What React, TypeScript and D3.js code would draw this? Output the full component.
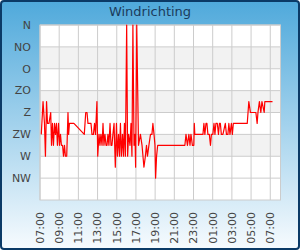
import React, { useEffect, useRef } from 'react';
import * as d3 from 'd3';

// wind direction samples (time of day, degrees), running from 07:00 to 07:14 the next morning
const times = [
    "07:08", "07:19", "07:28", "07:34", "07:41", "07:47", "07:56", "08:07", "08:12", "08:18",
    "08:24", "08:31", "08:37", "08:43", "08:49", "08:56", "09:02", "09:08", "09:14", "09:21",
    "09:27", "09:33", "09:39", "09:47", "09:55", "09:59", "10:04", "10:32", "11:37", "11:46",
    "11:54", "12:00", "12:19", "12:25", "12:34", "12:41", "12:47", "12:56", "13:01", "13:09",
    "13:15", "13:21", "13:28", "13:34", "13:40", "13:46", "13:53", "13:59", "14:05", "14:11",
    "14:18", "14:24", "14:30", "14:36", "14:43", "14:51", "14:58", "15:04", "15:11", "15:17",
    "15:23", "15:29", "15:36", "15:42", "15:48", "15:54", "16:02", "16:08", "16:14", "16:23",
    "16:29", "16:35", "16:41", "16:48", "16:54", "16:58", "17:05", "17:16", "17:28", "17:38",
    "17:50", "17:59", "18:06", "18:12", "18:21", "18:31", "18:40", "18:46", "18:53", "18:59",
    "19:03", "19:09", "19:16", "22:06", "22:13", "22:22", "22:31", "22:38", "22:44", "22:53",
    "23:02", "23:05", "23:08", "23:59", "00:05", "00:11", "00:18", "00:24", "00:30", "00:39",
    "00:46", "00:52", "01:01", "01:08", "01:14", "01:20", "01:29", "01:36", "01:42", "01:48",
    "01:54", "02:04", "02:19", "02:26", "02:35", "02:41", "02:48", "02:57", "03:03", "03:09",
    "04:36", "04:46", "04:56", "05:30", "05:38", "05:43", "05:52", "06:01", "06:08", "06:22",
    "06:26", "07:14",
];
const degrees = [
    225, 157.5, 202.5, 270, 157.5, 202.5, 202.5, 180, 247.5, 202.5,
    247.5, 202.5, 225, 202.5, 247.5, 202.5, 247.5, 225, 247.5, 247.5,
    270, 247.5, 270, 270, 180, 225, 202.5, 202.5, 225, 180,
    180, 202.5, 202.5, 225, 225, 202.5, 225, 157.5, 270, 225,
    247.5, 225, 247.5, 202.5, 247.5, 225, 247.5, 247.5, 225, 247.5,
    202.5, 247.5, 247.5, 225, 202.5, 292.5, 202.5, 270, 225, 270,
    202.5, 270, 225, 270, 202.5, 270, 0, 270, 225, 247.5,
    202.5, 270, 0, 247.5, 225, 292.5, 0, 247.5, 225, 247.5,
    292.5, 270, 247.5, 270, 247.5, 225, 225, 202.5, 225, 247.5,
    315, 270, 247.5, 247.5, 225, 247.5, 225, 247.5, 225, 247.5,
    247.5, 202.5, 225, 225, 202.5, 225, 202.5, 202.5, 225, 225,
    247.5, 225, 225, 202.5, 225, 202.5, 202.5, 225, 202.5, 202.5,
    225, 225, 202.5, 225, 225, 202.5, 225, 202.5, 225, 202.5,
    202.5, 157.5, 180, 180, 202.5, 180, 157.5, 180, 157.5, 180,
    157.5, 157.5,
];
const directionLabels = ["N", "NO", "O", "ZO", "Z", "ZW", "W", "NW"];
const directionValues = [0, 45, 90, 135, 180, 225, 270, 315];
const bandStarts = [45, 135, 225];

interface Sample {
    date: Date;
    value: number;
}

const App: React.FC = () => {
    const ref = useRef<HTMLDivElement | null>(null);

    useEffect(() => {
        document.body.style.margin = "0";
        if (!ref.current) return;
        d3.select(ref.current).select("svg").remove();

        const width = 300;
        const height = 250;
        const plot = { left: 40, right: 280.5, top: 25, bottom: 200 };
        const font = "DejaVu Sans, sans-serif";

        // turn "HH:MM" into dates, rolling over to the next day after midnight
        const data: Sample[] = [];
        let day = 1;
        let prevHour = -1;
        times.forEach((t, i) => {
            const [h, m] = t.split(":").map(Number);
            if (h < prevHour) day += 1;
            prevHour = h;
            data.push({ date: new Date(2024, 0, day, h, m), value: degrees[i] });
        });

        const start = new Date(2024, 0, 1, 7, 0);
        const end = new Date(2024, 0, 2, 8, 4);

        const x = d3.scaleTime().domain([start, end]).range([plot.left, plot.right]);
        const y = d3.scaleLinear().domain([0, 360]).range([plot.top, plot.bottom]);

        const svg = d3.select(ref.current)
            .append("svg")
            .attr("width", width)
            .attr("height", height)
            .style("display", "block");

        const grad = svg.append("defs").append("linearGradient")
            .attr("id", "bg").attr("x1", 0).attr("y1", 0).attr("x2", 0).attr("y2", 1);
        grad.append("stop").attr("offset", "0%").attr("stop-color", "#4fa9db");
        grad.append("stop").attr("offset", "100%").attr("stop-color", "#f7fbfe");

        svg.append("rect")
            .attr("x", 1).attr("y", 1)
            .attr("width", width - 2).attr("height", height - 2)
            .attr("rx", 3)
            .attr("fill", "url(#bg)")
            .attr("stroke", "#0b3a66")
            .attr("stroke-width", 2);

        svg.append("text")
            .attr("x", width / 2).attr("y", 16)
            .attr("text-anchor", "middle")
            .style("font-family", font).style("font-size", "13px")
            .attr("fill", "#1b3b5c")
            .text("Windrichting");

        // plot background + alternating bands
        svg.append("rect")
            .attr("x", plot.left).attr("y", plot.top)
            .attr("width", plot.right - plot.left).attr("height", plot.bottom - plot.top)
            .attr("fill", "#ffffff");

        svg.selectAll(".band").data(bandStarts).enter().append("rect")
            .attr("x", plot.left).attr("y", d => y(d))
            .attr("width", plot.right - plot.left).attr("height", y(90) - y(45))
            .attr("fill", "#f2f2f2");

        // grid, every 2 hours counted from 07:00
        const xTicks = d3.timeHour.range(start, end, 2);
        svg.append("g").selectAll("line").data(xTicks).enter().append("line")
            .attr("x1", d => x(d)).attr("x2", d => x(d))
            .attr("y1", plot.top).attr("y2", plot.bottom)
            .attr("stroke", "#cccccc");

        svg.append("g").selectAll("line").data(directionValues).enter().append("line")
            .attr("x1", plot.left).attr("x2", plot.right)
            .attr("y1", d => y(d)).attr("y2", d => y(d))
            .attr("stroke", "#cccccc");

        svg.append("rect")
            .attr("x", plot.left).attr("y", plot.top)
            .attr("width", plot.right - plot.left).attr("height", plot.bottom - plot.top)
            .attr("fill", "none")
            .attr("stroke", "#cccccc");

        // series
        const line = d3.line<Sample>()
            .x(d => x(d.date))
            .y(d => y(d.value));

        svg.append("path")
            .datum(data)
            .attr("fill", "none")
            .attr("stroke", "#ff0000")
            .attr("stroke-width", 1.2)
            .attr("stroke-linejoin", "round")
            .attr("d", line);

        // y labels
        svg.append("g").selectAll("text").data(directionValues).enter().append("text")
            .attr("x", 31).attr("y", d => y(d))
            .attr("dy", "0.35em")
            .attr("text-anchor", "end")
            .style("font-family", font).style("font-size", "11px")
            .attr("fill", "#444444")
            .text((d, i) => directionLabels[i]);

        // x labels, rotated
        const fmt = d3.timeFormat("%H:%M");
        svg.append("g").selectAll("text").data(xTicks).enter().append("text")
            .attr("transform", d => `translate(${x(d)},212) rotate(-90)`)
            .attr("dy", "0.35em")
            .attr("text-anchor", "end")
            .style("font-family", font).style("font-size", "11px")
            .attr("fill", "#444444")
            .text(d => fmt(d));
    }, []);

    return <div ref={ref}></div>;
};

export default App;
